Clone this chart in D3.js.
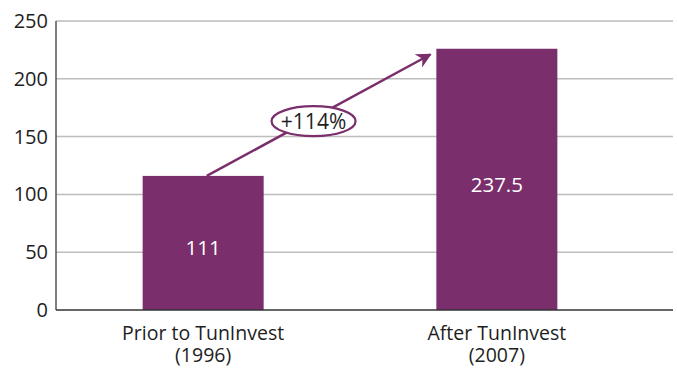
<!DOCTYPE html>
<html><head><meta charset="utf-8">
<script src="https://cdn.jsdelivr.net/npm/d3@7"></script>
<style>body{margin:0;background:#fff}svg{display:block}text{font-family:"Open Sans",sans-serif}</style>
</head><body>
<svg id="c" width="677" height="369"></svg>
<script>
const categories = [["Prior to TunInvest","(1996)"],["After TunInvest","(2007)"]];
const barValues = [116, 226];
const barLabels = ["111", "237.5"];
const yTicks = [0, 50, 100, 150, 200, 250];
const growthLabel = "+114%";
const arrowFrom = 116, arrowTo = 221;

(function () {
const purple = "#7a2e6c";
const svg = d3.select("#c");
const mL = 56, mR = 673, mT = 21, mB = 310;
const y = d3.scaleLinear().domain([0, 250]).range([mB, mT]);
const x = d3.scaleBand().domain(d3.range(categories.length)).range([mL, 644]).paddingInner(0.588).paddingOuter(0.295);

// gridlines
svg.append("g").selectAll("line").data(yTicks.filter(d => d > 0)).join("line")
  .attr("x1", mL).attr("x2", mR).attr("y1", d => y(d)).attr("y2", d => y(d))
  .attr("stroke", "#bdbdbd").attr("stroke-width", 1.5);

// y tick labels
svg.append("g").selectAll("text").data(yTicks).join("text")
  .attr("x", 48).attr("y", d => y(d)).attr("dy", "0.35em").attr("text-anchor", "end")
  .attr("font-size", 20).attr("fill", "#1e1e1e").text(d => d);

// bars
svg.append("g").selectAll("rect").data(barValues).join("rect")
  .attr("x", (d, i) => x(i)).attr("width", x.bandwidth())
  .attr("y", d => y(d)).attr("height", d => y(0) - y(d)).attr("fill", purple);

// bar labels
svg.append("g").selectAll("text").data(barValues).join("text")
  .attr("x", (d, i) => x(i) + x.bandwidth() / 2)
  .attr("y", d => (y(d) + y(0)) / 2 + 5).attr("dy", "0.35em")
  .attr("text-anchor", "middle").attr("font-size", 20.5).attr("fill", "#fff")
  .text((d, i) => barLabels[i]);

// axes lines
svg.append("line").attr("x1", mL).attr("x2", mL).attr("y1", mT).attr("y2", mB)
  .attr("stroke", "#555").attr("stroke-width", 1.5);
svg.append("line").attr("x1", mL).attr("x2", mR).attr("y1", mB).attr("y2", mB)
  .attr("stroke", "#333").attr("stroke-width", 1.5);

// category labels
const cl = svg.append("g").selectAll("text").data(categories).join("text")
  .attr("text-anchor", "middle").attr("font-size", 19.5).attr("fill", "#1e1e1e");
cl.each(function(d, i) {
  const t = d3.select(this);
  d.forEach((line, j) => t.append("tspan").attr("x", x(i) + x.bandwidth() / 2).attr("y", 340 + j * 22).text(line));
});

// arrow
const defs = svg.append("defs");
defs.append("marker").attr("id", "ah").attr("viewBox", "0 0 10 10").attr("refX", 9).attr("refY", 5)
  .attr("markerWidth", 6).attr("markerHeight", 6).attr("markerUnits", "strokeWidth").attr("orient", "auto")
  .append("path").attr("d", "M0,0 L10,5 L0,10 L3,5 z").attr("fill", purple);
const x0 = x(0) + x.bandwidth() * 0.53, y0 = y(arrowFrom);
const x1 = x(1) - 6, y1 = y(arrowTo);
svg.append("line").attr("x1", x0).attr("y1", y0).attr("x2", x1).attr("y2", y1)
  .attr("stroke", purple).attr("stroke-width", 2.5).attr("marker-end", "url(#ah)");

// growth ellipse
const cx = (x0 + x1) / 2 - 5, cy = (y0 + y1) / 2 + 6;
svg.append("ellipse").attr("cx", cx).attr("cy", cy).attr("rx", 42).attr("ry", 15)
  .attr("fill", "#fff").attr("stroke", purple).attr("stroke-width", 2.2);
svg.append("text").attr("x", cx).attr("y", cy).attr("dy", "0.35em").attr("text-anchor", "middle")
  .attr("font-size", 21).attr("fill", "#1e1e1e").text(growthLabel);
})();
</script>
</body></html>
